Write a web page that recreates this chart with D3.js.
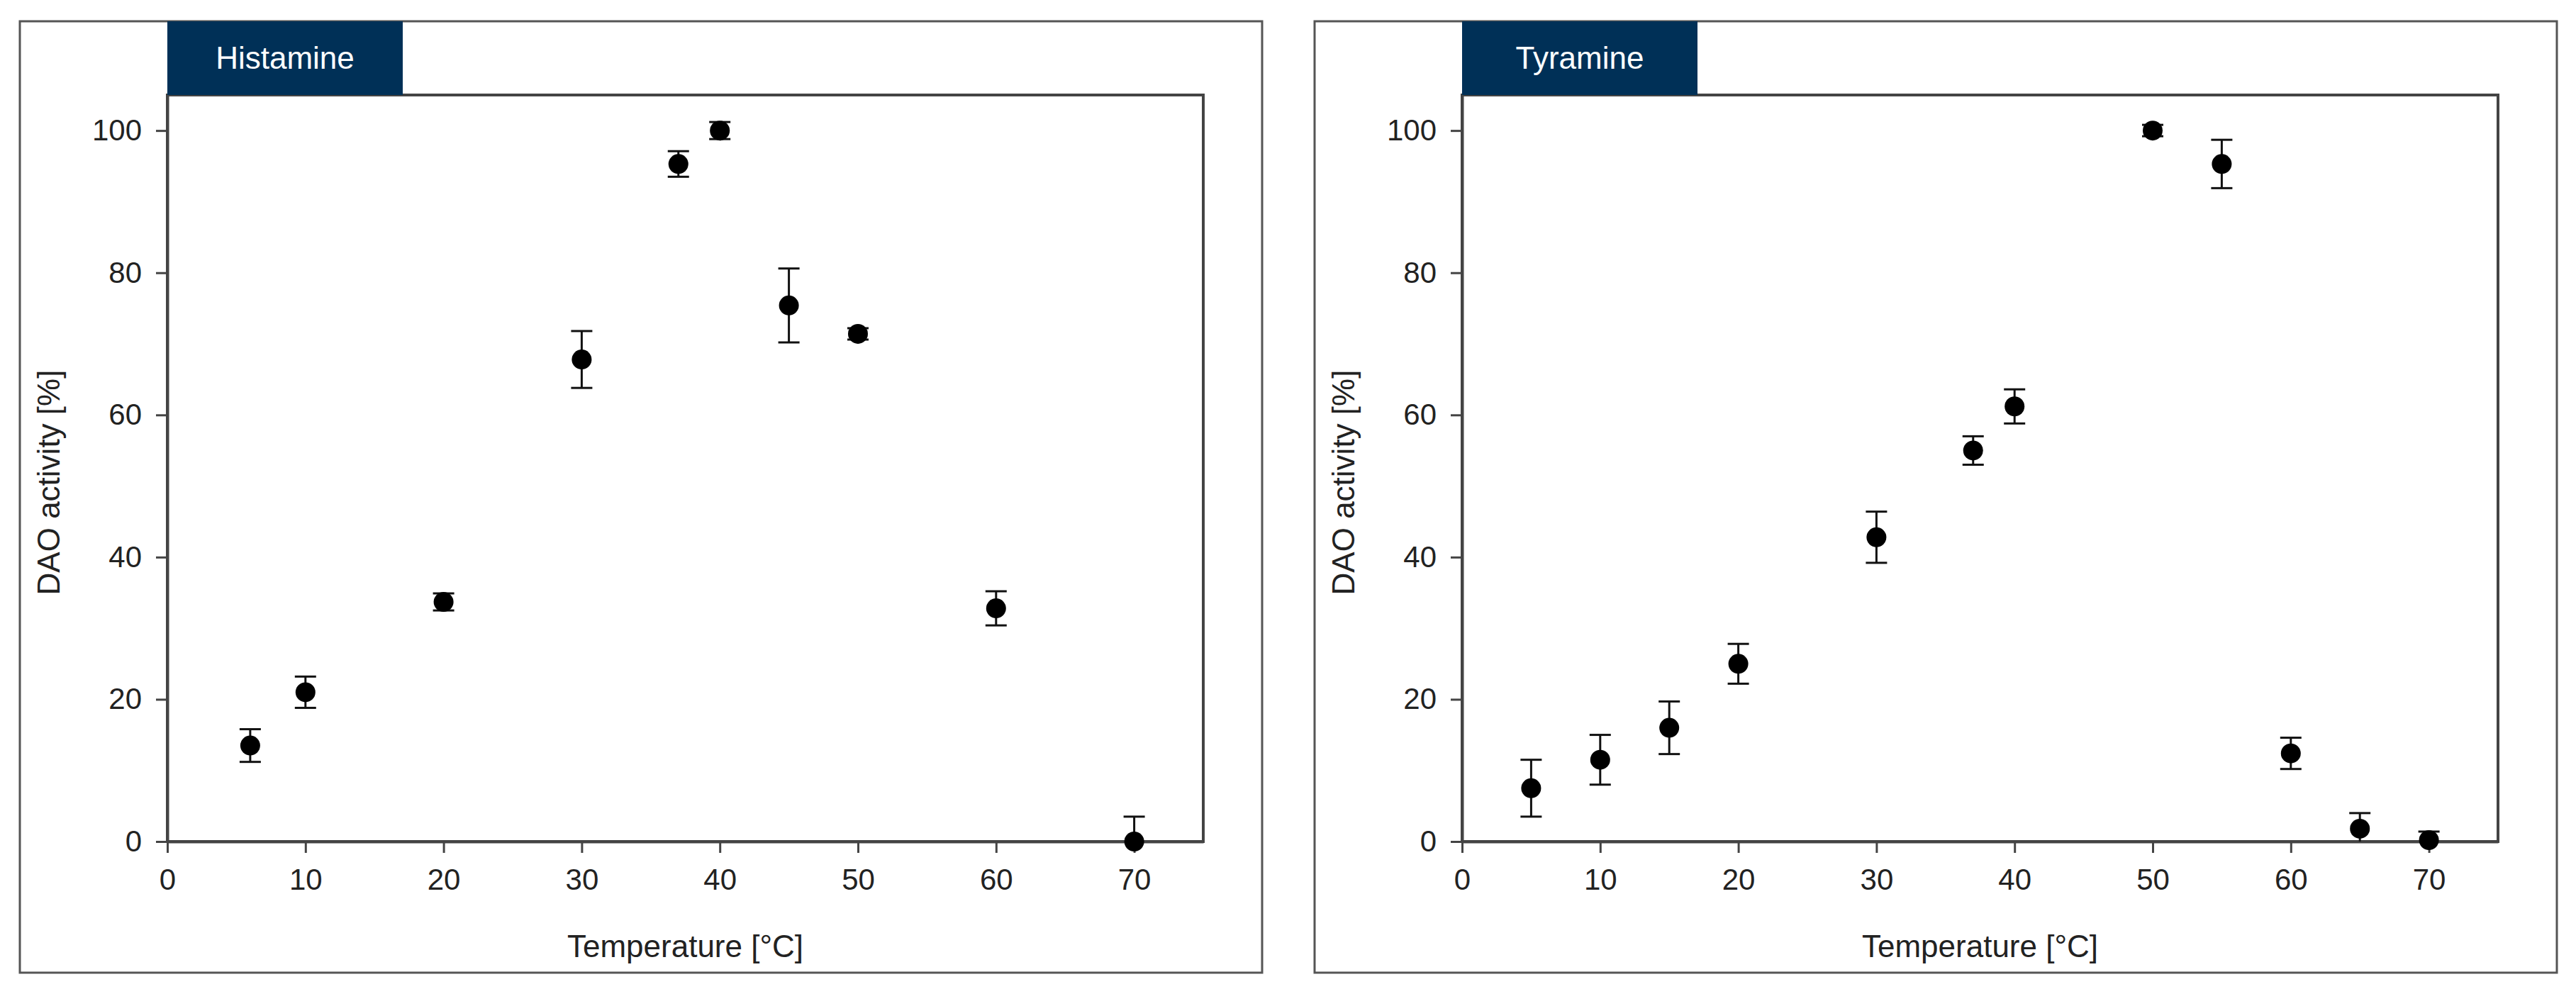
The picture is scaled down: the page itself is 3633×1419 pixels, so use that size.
<!DOCTYPE html>
<html><head><meta charset="utf-8">
<script src="https://cdn.jsdelivr.net/npm/d3@7"></script>
<style>body{margin:0;background:#fff}svg{display:block}text{font-family:"Liberation Sans",Arial,sans-serif}</style>
</head><body><svg id="c" width="3633" height="1419"></svg>
<script>
const histTemp = [6,10,20,30,37,40,45,50,60,70];
const histMean = [13.5,21,33.7,67.8,95.3,100,75.4,71.4,32.8,0];
const histErr  = [2.3,2.2,1.2,4,1.8,1.2,5.2,0.8,2.4,3.5];
const tyrTemp = [5,10,15,20,30,37,40,50,55,60,65,70];
const tyrMean = [7.5,11.5,16,25,42.8,55,61.2,100,95.3,12.4,1.8,0.2];
const tyrErr  = [4,3.5,3.7,2.8,3.6,2,2.4,0.8,3.4,2.2,2.2,1.2];
const xTicks = [0,10,20,30,40,50,60,70];
const yTicks = [0,20,40,60,80,100];

const svg = d3.select("#c");
const stroke = "#444";
function panel(ox, titleText, T, M, E, clipId){
  const box = {x:ox+28, y:30, w:1752, h:1342};
  svg.append("rect").attr("x",box.x).attr("y",box.y).attr("width",box.w).attr("height",box.h)
    .attr("fill","none").attr("stroke","#555").attr("stroke-width",3);
  const L = ox+236, R = ox+1697, Tp = 134, B = 1187;
  const x = d3.scaleLinear().domain([0,75]).range([L,R]);
  const y = d3.scaleLinear().domain([0,105]).range([B,Tp]);
  const g = svg.append("g");
  g.append("rect").attr("x",L).attr("y",Tp).attr("width",R-L).attr("height",B-Tp)
    .attr("fill","none").attr("stroke",stroke).attr("stroke-width",4);
  // tab
  g.append("rect").attr("x",L).attr("y",box.y).attr("width",332).attr("height",Tp-box.y)
    .attr("fill","#003057");
  g.append("text").attr("x",L+166).attr("y",(box.y+Tp)/2+15).attr("text-anchor","middle")
    .attr("fill","#fff").attr("font-size",44).text(titleText);
  const xa = g.append("g").attr("transform",`translate(0,${B})`)
    .call(d3.axisBottom(x).tickValues(xTicks).tickSize(16).tickPadding(22).tickSizeOuter(0));
  const ya = g.append("g").attr("transform",`translate(${L},0)`)
    .call(d3.axisLeft(y).tickValues(yTicks).tickSize(16).tickPadding(20).tickSizeOuter(0));
  [xa,ya].forEach(a=>{a.select(".domain").attr("stroke",stroke).attr("stroke-width",4);
    a.selectAll(".tick line").attr("stroke",stroke).attr("stroke-width",3);
    a.selectAll(".tick text").attr("font-size",42).attr("fill","#222");});
  g.append("text").attr("x",(L+R)/2).attr("y",1350).attr("text-anchor","middle")
    .attr("font-size",44).attr("fill","#222").text("Temperature [°C]");
  g.append("text").attr("transform",`translate(${ox+84},${(Tp+B)/2+20}) rotate(-90)`)
    .attr("text-anchor","middle").attr("font-size",44).attr("fill","#222").text("DAO activity [%]");
  svg.append("clipPath").attr("id",clipId).append("rect").attr("x",L).attr("y",Tp-40).attr("width",R-L).attr("height",B-Tp+40);
  const pts = g.append("g");
  const eb = pts.append("g").attr("clip-path",`url(#${clipId})`);
  T.forEach((t,i)=>{
    const cx = x(t), y1 = y(M[i]+E[i]), y0 = y(M[i]-E[i]);
    eb.append("line").attr("x1",cx).attr("x2",cx).attr("y1",y1).attr("y2",y0).attr("stroke","#111").attr("stroke-width",3);
    [y1,y0].forEach(yy=>eb.append("line").attr("x1",cx-15).attr("x2",cx+15).attr("y1",yy).attr("y2",yy).attr("stroke","#111").attr("stroke-width",3));
  });
  pts.selectAll("circle").data(T).join("circle").attr("cx",d=>x(d)).attr("cy",(d,i)=>y(M[i]))
    .attr("r",14).attr("fill","#000");
}
panel(0,"Histamine",histTemp,histMean,histErr,"c1");
panel(1826,"Tyramine",tyrTemp,tyrMean,tyrErr,"c2");
</script></body></html>
